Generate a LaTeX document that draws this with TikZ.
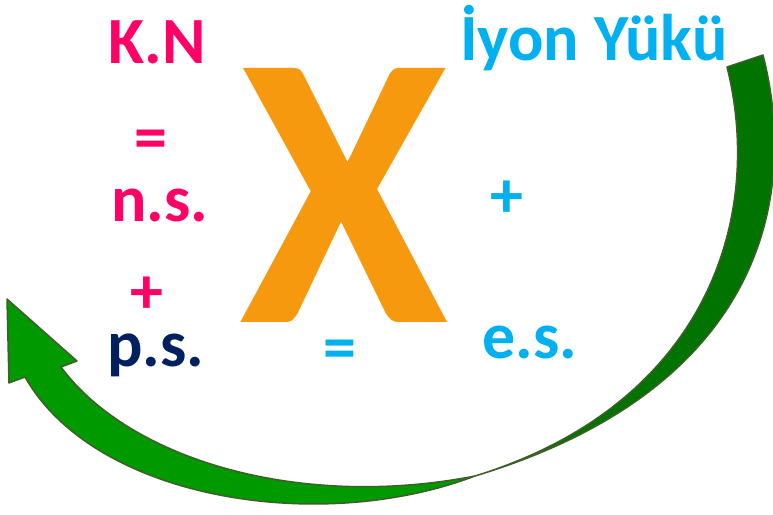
\documentclass[tikz,border=0pt]{standalone}
\usepackage{fontspec}
\setmainfont{Carlito}
\definecolor{pinkc}{HTML}{FF0066}
\definecolor{bluec}{HTML}{00B0F0}
\definecolor{navyc}{HTML}{002060}
\definecolor{orangec}{HTML}{F7990F}
\definecolor{lightg}{HTML}{009900}
\definecolor{darkg}{HTML}{007300}
\definecolor{edgeg}{HTML}{3F5F2A}
\begin{document}
\begin{tikzpicture}[x=1pt,y=-1pt,
  lbl/.style={inner sep=0pt, anchor=base, font=\fontsize{66}{66}\selectfont\bfseries},
  sym/.style={lbl, text height=36pt, text depth=0pt},
  band/.style={draw=edgeg, line width=1.5pt, line join=round}]
\useasboundingbox (0,0) rectangle (773,514);
\begin{scope}
\clip (0,0) rectangle (773,514);
% back (dark) band
\filldraw[band, fill=darkg] (727,67) -- (763,55) .. controls (800,200) and (760,390) .. (475,476)
   .. controls (705,405) and (765,220) .. (727,67) -- cycle;
% front (light) band with arrow head
\filldraw[band, fill=lightg] (475,476) .. controls (320,535) and (95,500) .. (25,377)
   -- (9,383) -- (7,299) -- (77,361) -- (61,367)
   .. controls (130,460) and (300,510) .. (475,476) -- cycle;
\end{scope}
% big X
\node[inner sep=0pt, anchor=base, text=orangec, xscale=0.97, text height=250pt, text depth=0pt,
  font=\fontsize{392}{392}\selectfont\bfseries] (bigx) at (344,322) {X};
% labels
\node[lbl, text=pinkc] (kn) at (157,63) {K.N};
\node[sym, text=pinkc] (eq1) at (151,159) {=};
\node[lbl, text=pinkc, text depth=0pt] (ns) at (160,221) {n.s.};
\node[sym, text=pinkc] (pl1) at (147,313) {+};
\node[lbl, text=navyc, text height=36pt] (ps) at (156,366) {p.s.};
\node[sym, text=bluec] (eq2) at (340,369) {=};
\node[sym, text=bluec] (pl2) at (507,217) {+};
\node[lbl, text=bluec, text height=36pt, text depth=0pt] (es) at (530,358) {e.s.};
\node[lbl, text=bluec] (iyon) at (594,60) {İyon Yükü};
\end{tikzpicture}
\end{document}
